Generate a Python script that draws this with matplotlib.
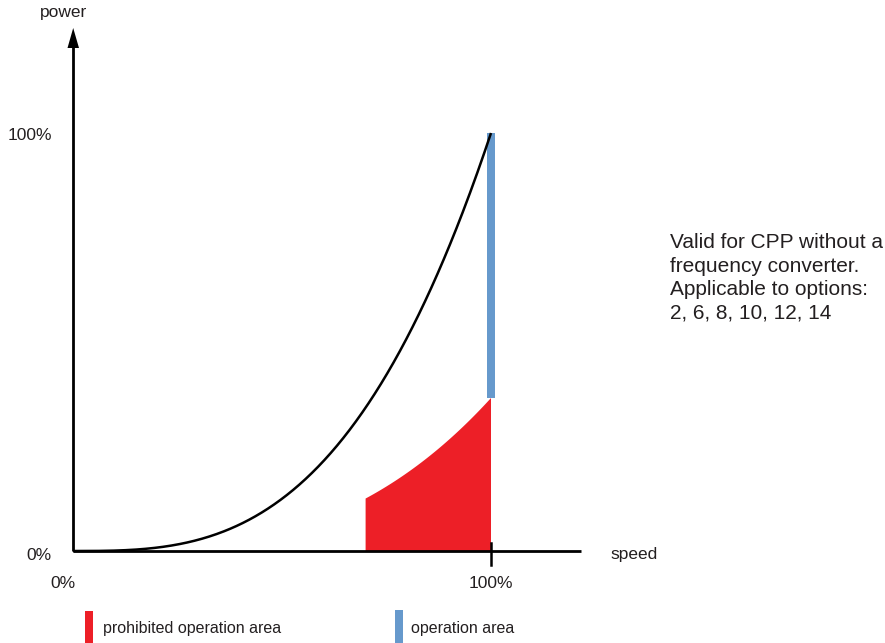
import numpy as np
import matplotlib
matplotlib.use("Agg")
import matplotlib.pyplot as plt
from matplotlib.patches import Rectangle, Polygon

plt.rcParams['font.family'] = ['Liberation Sans', 'DejaVu Sans']

# ---- data ----
propeller_exponent = 3            # power ~ speed^3 (propeller law)
curve_speed_range = [0.0, 1.0]
prohibited_speed_range = [0.70, 1.0]
prohibited_power_at_100 = 0.366   # top of prohibited area at 100 % speed
operation_power_range = [0.366, 1.0]
operation_speed = 1.0
x_tick_labels = ["0%", "100%"]
y_tick_labels = ["0%", "100%"]
axis_labels = ["speed", "power"]
note_lines = ["Valid for CPP without a", "frequency converter.",
              "Applicable to options:", "2, 6, 8, 10, 12, 14"]
legend_labels = ["prohibited operation area", "operation area"]

RED = "#ED1F27"
BLUE = "#6699CC"
TXT = "#231F20"

# ---- figure: map data (0..1) onto pixel layout ----
W, H = 885, 643
x0px, x1px = 73, 491
y0px, y1px = 551, 133
sx = x1px - x0px
sy = y0px - y1px
fig = plt.figure(figsize=(W / 100, H / 100), dpi=100)
ax = fig.add_axes([0, 0, 1, 1])
ax.set_xlim(-x0px / sx, (W - x0px) / sx)
ax.set_ylim((y0px - H) / sy, y0px / sy)
ax.axis("off")

def px(x):
    return (x - x0px) / sx

def py(y):
    return (y0px - y) / sy

# prohibited area
s = np.linspace(prohibited_speed_range[0], prohibited_speed_range[1], 200)
top = prohibited_power_at_100 * s ** propeller_exponent
verts = [(s[0], 0)] + list(zip(s, top)) + [(s[-1], 0)]
ax.add_patch(Polygon(verts, closed=True, facecolor=RED, edgecolor="none", zorder=2))

# operation area bar
bw = 8 / sx
ax.add_patch(Rectangle((operation_speed - bw / 2, operation_power_range[0]), bw,
                       operation_power_range[1] - operation_power_range[0],
                       facecolor=BLUE, edgecolor="none", zorder=2))

# propeller curve
sc = np.linspace(curve_speed_range[0], curve_speed_range[1], 400)
ax.plot(sc, sc ** propeller_exponent, color="black", lw=1.8, zorder=4,
        solid_capstyle="butt")

# axes lines
ax.plot([0, px(581)], [0, 0], color="black", lw=2.0, zorder=5, solid_capstyle="butt")
ax.plot([0, 0], [0, py(46)], color="black", lw=2.0, zorder=5, solid_capstyle="butt")
ax.add_patch(Polygon([(px(67.5), py(48)), (px(79), py(48)), (px(73.2), py(28))],
                     closed=True, facecolor="black", edgecolor="none", zorder=6))
# tick at 100 %
ax.plot([1.0, 1.0], [py(543), py(565)], color="black", lw=1.8, zorder=5)

fs = 12.5
# y tick labels
ax.text(px(51), 0 - 0.01, y_tick_labels[0], ha="right", va="center", fontsize=fs, color=TXT)
ax.text(px(52), 1.0 - 0.005, y_tick_labels[1], ha="right", va="center", fontsize=fs, color=TXT)
# x tick labels
ax.text(px(63), py(583), x_tick_labels[0], ha="center", va="center", fontsize=fs, color=TXT)
ax.text(1.0, py(583), x_tick_labels[1], ha="center", va="center", fontsize=fs, color=TXT)
# axis labels
ax.text(px(610), py(555), axis_labels[0], ha="left", va="center", fontsize=fs, color=TXT)
ax.text(px(64), py(13), axis_labels[1], ha="center", va="center", fontsize=fs, color=TXT)

# note
for i, line in enumerate(note_lines):
    ax.text(px(670), py(243 + i * 23.3), line, ha="left", va="center",
            fontsize=15, color=TXT)

# legend
ax.add_patch(Rectangle((px(85), py(643)), 8 / sx, (643 - 611) / sy,
                       facecolor=RED, edgecolor="none"))
ax.text(px(103), py(628), legend_labels[0], ha="left", va="center", fontsize=11.5, color=TXT)
ax.add_patch(Rectangle((px(395), py(643)), 8 / sx, (643 - 610) / sy,
                       facecolor=BLUE, edgecolor="none"))
ax.text(px(411), py(628), legend_labels[1], ha="left", va="center", fontsize=11.5, color=TXT)

fig.savefig("out.png", dpi=100)
